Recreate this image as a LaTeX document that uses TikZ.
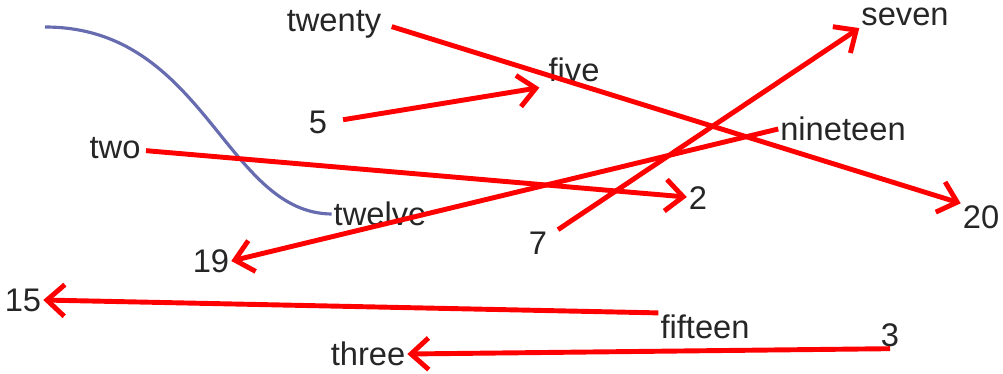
\documentclass[tikz,border=0pt]{standalone}
\usepackage{fontspec}
\setmainfont{Liberation Sans}
\usetikzlibrary{arrows.meta}

\definecolor{wavecol}{RGB}{102,108,175}

\begin{document}
\begin{tikzpicture}[
        x=0.02cm, y=-0.02cm,
        word/.style={inner sep=1pt, text=black!85, font=\fontsize{18.6}{22}\selectfont},
        link/.style={draw=red, line width=2.8pt, -{Straight Barb[length=10pt, width=18pt, line width=2.8pt]}},
        wave/.style={draw=wavecol, line width=1.8pt}
      ]

      \useasboundingbox (0,0) rectangle (1003,373);

      % Words
      \node[word] (twenty) at (334,24) {twenty};
      \node[word] (five) at (574,70) {five};
      \node[word] (seven) at (905,17) {seven};
      \node[word] (n5) at (318,122) {5};
      \node[word] (nineteen) at (843,129) {nineteen};
      \node[word] (two) at (115,148) {two};
      \node[word] (n2) at (698,198) {2};
      \node[word] (twelve) at (380,214) {twelve};
      \node[word] (n20) at (981,217) {20};
      \node[word] (n7) at (538,243) {7};
      \node[word] (n19) at (211,261) {19};
      \node[word] (n15) at (23,300) {15};
      \node[word] (fifteen) at (705,327) {fifteen};
      \node[word] (n3) at (890,335) {3};
      \node[word] (three) at (368,354) {three};

      % Curve
      \coordinate (wstart) at (45,27);
      \draw[wave] (wstart) .. controls (205,27) and (225,213) .. (twelve.west);

      % Connections
      \draw[link, shorten <=5pt] (twenty.east) -- (n20.north west);
      \draw[link, shorten <=8pt] (n5.east) -- ([xshift=-4pt, yshift=-2pt]five.south west);
      \draw[link, shorten <=2pt] (two) -- (n2);
      \draw[link, shorten <=6pt] (n7) -- (seven.south west);
      \draw[link] (nineteen.west) -- (n19.east);
      \draw[link] (fifteen.north west) -- (n15.east);
      \draw[link] (n3.south) -- (three.east);

\end{tikzpicture}
\end{document}
